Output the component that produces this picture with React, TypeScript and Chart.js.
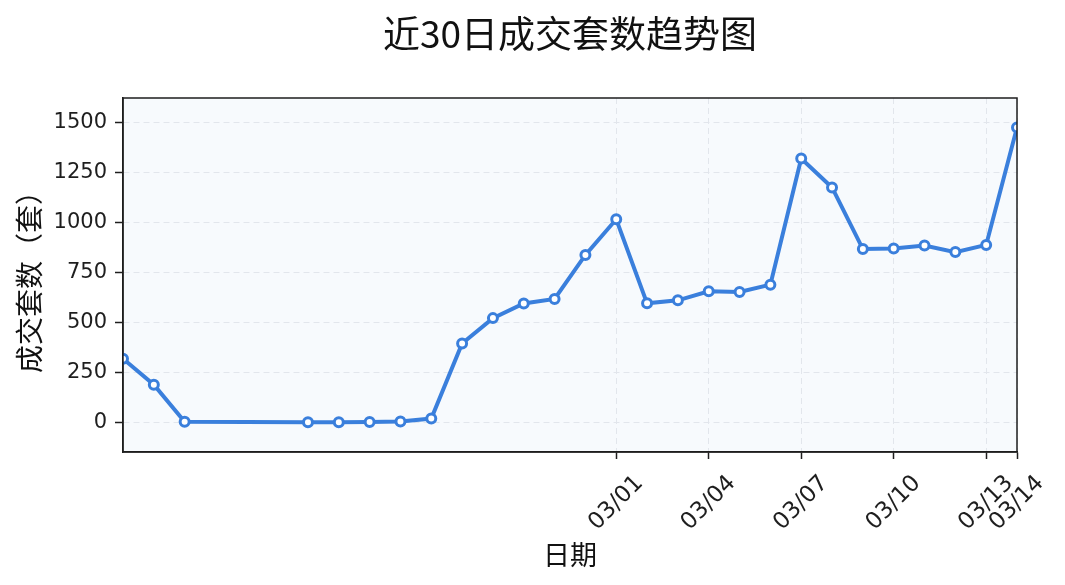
import { useEffect, useRef } from 'react';
import { Chart, registerables } from 'chart.js';

Chart.register(...registerables);

// ---- data ----
const dates = [
  '2024-02-14', '2024-02-15', '2024-02-16',
  '2024-02-20', '2024-02-21', '2024-02-22', '2024-02-23', '2024-02-24',
  '2024-02-25', '2024-02-26', '2024-02-27', '2024-02-28', '2024-02-29',
  '2024-03-01', '2024-03-02', '2024-03-03', '2024-03-04', '2024-03-05',
  '2024-03-06', '2024-03-07', '2024-03-08', '2024-03-09', '2024-03-10',
  '2024-03-11', '2024-03-12', '2024-03-13', '2024-03-14',
];
const counts = [
  319, 189, 4,
  2, 2, 3, 6, 20,
  395, 522, 595, 618, 838,
  1016, 596, 611, 656, 653,
  689, 1320, 1175, 867, 870,
  885, 852, 888, 1475,
];
const xTickDates = ['2024-03-01', '2024-03-04', '2024-03-07', '2024-03-10', '2024-03-13', '2024-03-14'];
const yTicks = [0, 250, 500, 750, 1000, 1250, 1500];
const chartTitle = '近30日成交套数趋势图';
const xTitle = '日期';
const yTitle = '成交套数（套）';

const DAY = 86400000;
const dayNum = (s: string) => Date.parse(s + 'T00:00:00Z') / DAY;
const fmtDate = (s: string) => s.slice(5).replace('-', '/');

const LINE = '#3a7fdc';
const INK = '#1e1e1e';
const GRID = '#e2e6ec';
const CJK = '"Noto Sans CJK SC", sans-serif';
const LATIN = '"DejaVu Sans", sans-serif';

export default function App() {
  const ref = useRef<HTMLCanvasElement | null>(null);

  useEffect(() => {
    document.body.style.margin = '0';
    const canvas = ref.current;
    if (!canvas) return;

    const decor = {
      id: 'decor',
      beforeDraw(chart: any) {
        const { ctx, chartArea: a } = chart;
        ctx.save();
        ctx.fillStyle = '#f7fafd';
        ctx.fillRect(a.left, a.top, a.right - a.left, a.bottom - a.top);
        ctx.restore();
      },
      afterDraw(chart: any) {
        const { ctx, chartArea: a } = chart;
        ctx.save();
        // frame
        ctx.strokeStyle = INK;
        ctx.lineWidth = 1.5;
        ctx.strokeRect(a.left, a.top, a.right - a.left, a.bottom - a.top);
        // title
        ctx.fillStyle = '#111';
        ctx.font = `37px ${CJK}`;
        ctx.textAlign = 'center';
        ctx.textBaseline = 'middle';
        ctx.fillText(chartTitle, (a.left + a.right) / 2, 34);
        // rotated x tick labels
        const xs = chart.scales.x;
        ctx.font = `23px ${LATIN}`;
        ctx.fillStyle = INK;
        for (const d of xTickDates) {
          const px = xs.getPixelForValue(dayNum(d));
          ctx.save();
          ctx.translate(px, a.bottom + 51);
          ctx.rotate(-Math.PI / 4);
          ctx.textAlign = 'center';
          ctx.textBaseline = 'middle';
          ctx.fillText(fmtDate(d), 0, 0);
          ctx.restore();
        }
        ctx.restore();
      },
    };

    const chart = new Chart(canvas, {
      type: 'line',
      data: {
        datasets: [
          {
            data: dates.map((d, i) => ({ x: dayNum(d), y: counts[i] })),
            borderColor: LINE,
            borderWidth: 4,
            pointRadius: 4.5,
            pointBorderWidth: 3,
            pointBackgroundColor: '#ffffff',
            pointBorderColor: LINE,
            tension: 0,
            clip: 0,
          } as any,
        ],
      },
      options: {
        animation: false,
        responsive: false,
        devicePixelRatio: 1,
        layout: { padding: { left: 0, right: 48, top: 98, bottom: 0 } },
        plugins: {
          legend: { display: false },
          tooltip: { enabled: false },
          title: { display: false },
        },
        scales: {
          x: {
            type: 'linear',
            min: dayNum(dates[0]),
            max: dayNum(dates[dates.length - 1]),
            afterBuildTicks: (s: any) => {
              s.ticks = xTickDates.map((d) => ({ value: dayNum(d) }));
            },
            afterFit: (s: any) => {
              s.height = 133;
            },
            ticks: { display: false },
            grid: { color: GRID, lineWidth: 1, tickLength: 7, tickColor: INK, tickWidth: 1.5 },
            border: { display: true, color: INK, width: 1.5, dash: [6, 4] },
            title: {
              display: true,
              text: xTitle,
              color: '#111',
              font: { family: CJK, size: 27 },
              padding: { top: 0, bottom: 14 },
            },
          },
          y: {
            min: -147,
            max: 1622,
            afterBuildTicks: (s: any) => {
              s.ticks = yTicks.map((v) => ({ value: v }));
            },
            afterFit: (s: any) => {
              s.width = 123;
            },
            ticks: {
              font: { family: LATIN, size: 21 },
              color: INK,
              padding: 8,
              callback: (v: any) => String(v),
            },
            grid: { color: GRID, lineWidth: 1, tickLength: 8, tickColor: INK, tickWidth: 1.5 },
            border: { display: true, color: INK, width: 1.5, dash: [6, 4] },
            title: {
              display: true,
              text: yTitle,
              color: '#111',
              font: { family: CJK, size: 28 },
              padding: { top: 13, bottom: 0 },
            },
          },
        },
      } as any,
      plugins: [decor],
    });

    return () => chart.destroy();
  }, []);

  return <canvas ref={ref} width={1065} height={585} style={{ display: 'block', width: 1065, height: 585 }} />;
}
